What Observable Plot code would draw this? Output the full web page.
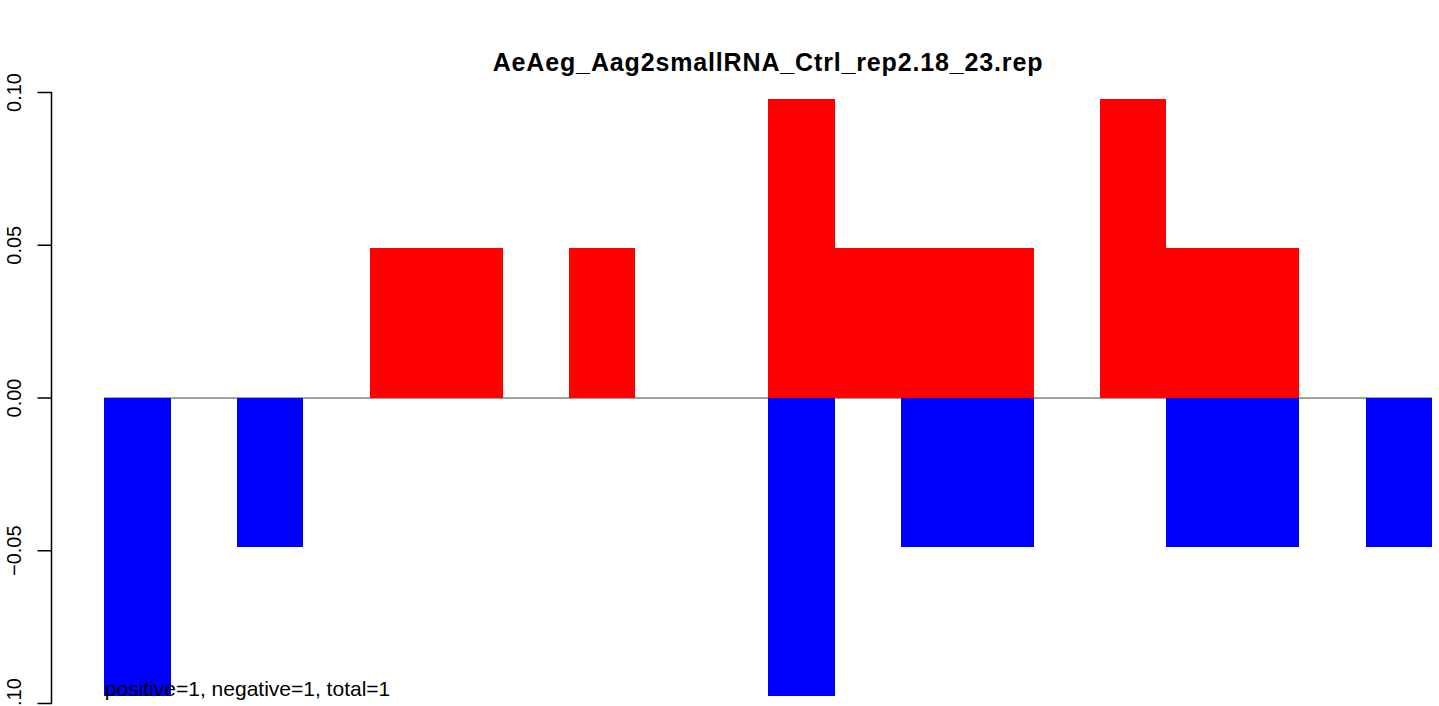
<!DOCTYPE html>
<html><head><meta charset="utf-8">
<script src="https://cdn.jsdelivr.net/npm/d3@7"></script>
<script src="https://cdn.jsdelivr.net/npm/@observablehq/plot@0.6"></script>
<style>
html,body{margin:0;padding:0;background:#fff;overflow:hidden;}
#wrap{position:relative;width:1439px;height:706px;}
#title{position:absolute;left:51px;width:1434px;top:50px;text-align:center;font:bold 25px "Liberation Sans",Arial,sans-serif;letter-spacing:0.85px;line-height:25px;color:#000;white-space:nowrap;}
#chart{position:absolute;left:0;top:0;}
</style></head><body>
<div id="wrap"><div id="chart"></div><div id="title"></div></div>
<script>
const titleText = "AeAeg_Aag2smallRNA_Ctrl_rep2.18_23.rep";
const positions = [1,2,3,4,5,6,7,8,9,10,11,12,13,14,15,16,17,18,19,20];
const positiveValues = [0,0,0,0,0.0488,0.0488,0,0.0488,0,0,0.0976,0.0488,0.0488,0.0488,0,0.0976,0.0488,0.0488,0,0];
const negativeValues = [-0.0976,0,-0.0488,0,0,0,0,0,0,0,-0.0976,0,-0.0488,-0.0488,0,0,-0.0488,-0.0488,0,-0.0488];
const yTicks = [-0.1,-0.05,0,0.05,0.1];
const annotation = "positive=1, negative=1, total=1";

document.getElementById("title").textContent = titleText;

const posBars = positions.map((p,i)=>({pos:p, value:positiveValues[i]})).filter(d=>d.value!==0);
const negBars = positions.map((p,i)=>({pos:p, value:negativeValues[i]})).filter(d=>d.value!==0);

const chart = Plot.plot({
  width:1439, height:706,
  marginTop:92, marginBottom:3, marginLeft:51, marginRight:0,
  style:{fontFamily:'"Liberation Sans", Arial, sans-serif', fontSize:"20px", color:"#000", background:"#fff", overflow:"visible"},
  x:{type:"linear", domain:[0, positions.length], range:[104.3,1432], axis:null},
  y:{domain:[-0.1,0.1], axis:null},
  marks:[
    Plot.ruleY([0], {x1:0, x2:positions.length, stroke:"#444", strokeWidth:1}),
    Plot.rectY(posBars, {x1:d=>d.pos-1, x2:d=>d.pos, y1:0, y2:"value", fill:"#FF0000", shapeRendering:"crispEdges"}),
    Plot.rectY(negBars, {x1:d=>d.pos-1, x2:d=>d.pos, y1:0, y2:"value", fill:"#0000FF", shapeRendering:"crispEdges"}),
    Plot.frame({anchor:"left", stroke:"#000", strokeWidth:1.5}),
    Plot.axisY({ticks:yTicks, tickFormat:d3.format(".2f"), tickRotate:-90, tickSize:13.5, tickPadding:17, fontSize:20, strokeWidth:1.5, label:null, stroke:"#000", fill:"#000"}),
    Plot.text([annotation], {x:0, y:d3.min(negativeValues), text:d=>d, textAnchor:"start", lineAnchor:"bottom", fill:"#000", fontSize:21})
  ]
});
document.getElementById("chart").appendChild(chart);
</script>
</body></html>
